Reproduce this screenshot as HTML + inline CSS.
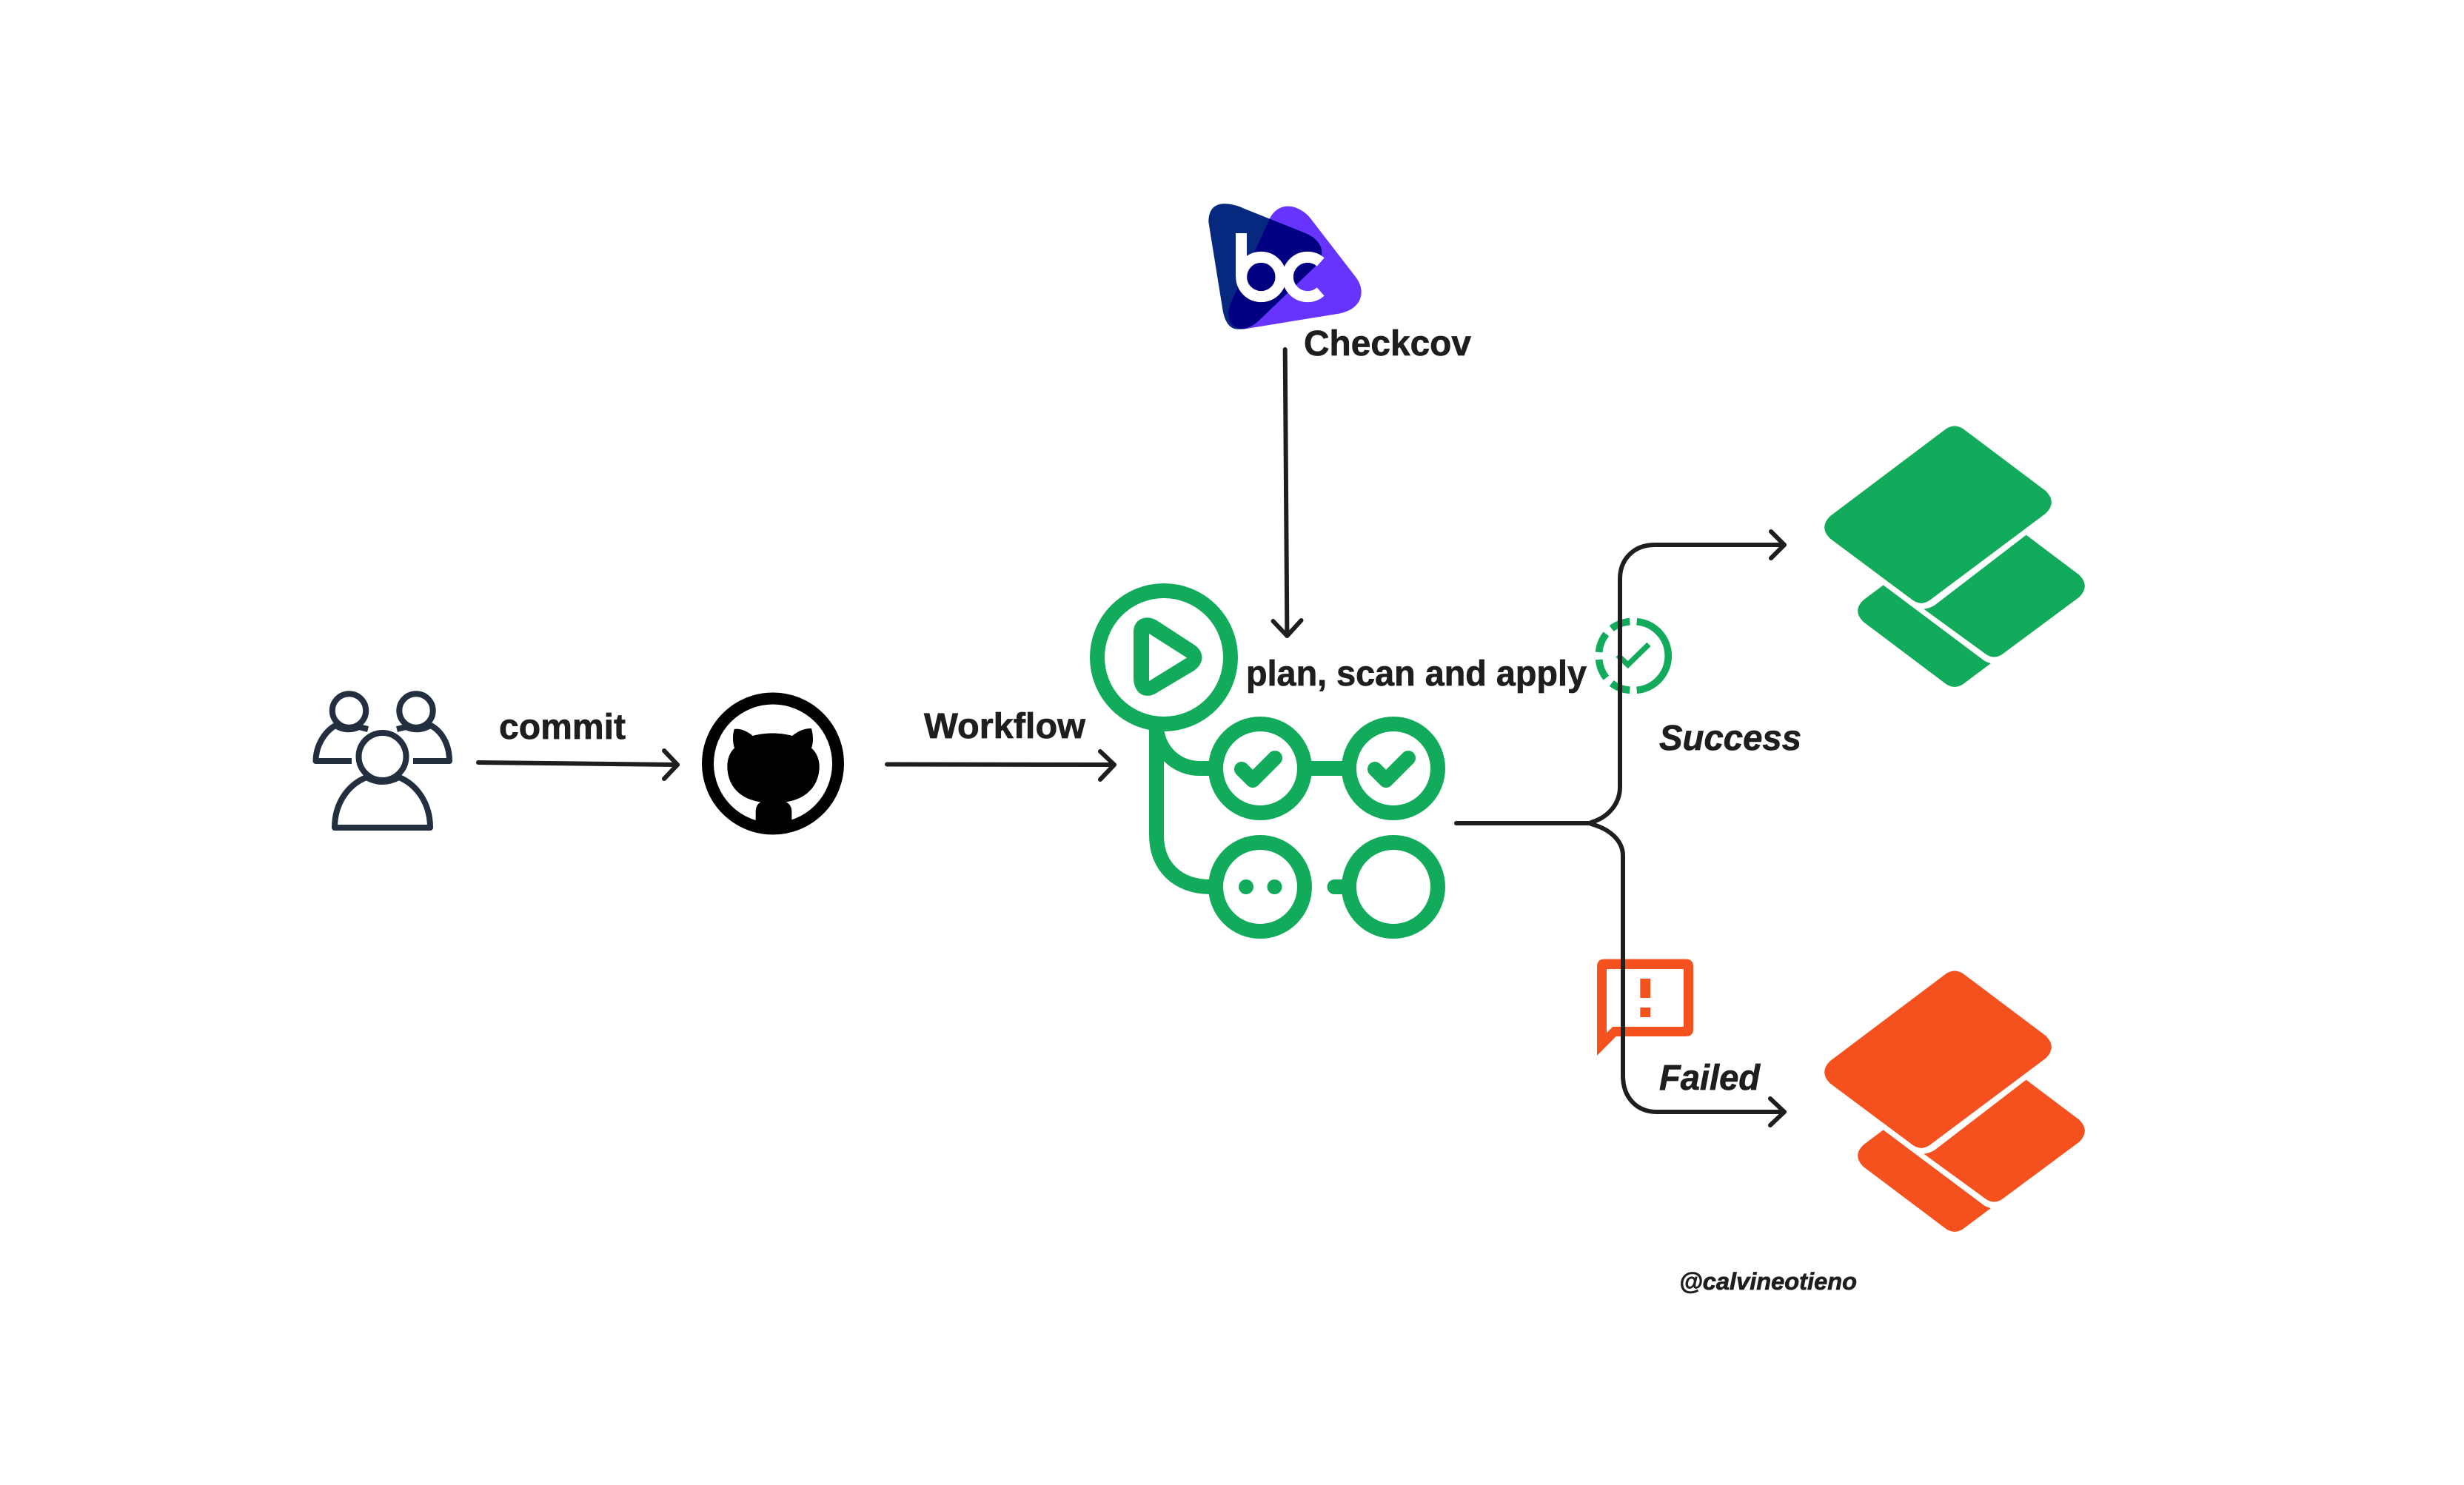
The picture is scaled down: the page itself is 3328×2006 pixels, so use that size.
<!DOCTYPE html>
<html>
<head>
<meta charset="utf-8">
<style>
html,body{margin:0;padding:0;background:#fff;}
svg{display:block;}
text{font-family:"Liberation Sans",sans-serif;font-weight:700;fill:#1e1e1e;stroke:#1e1e1e;stroke-width:0.7px;}
.i{font-style:italic;}
</style>
</head>
<body>
<svg xmlns="http://www.w3.org/2000/svg" width="3328" height="2006" viewBox="0 0 3328 2006">
<rect width="3328" height="2006" fill="#fff"/>
<defs>
<clipPath id="darkclip"><path d="M97 150C97 90 130 70 180 77C200 80 220 85 240 95L490 195C550 220 575 270 540 320L300 550C270 578 240 585 215 584C185 583 165 560 155 510Z"/></clipPath>
<g id="stack">
<path d="M535 58Q570 35 605 58L940 310Q985 355 940 400L470 752Q435 777 400 752L65 502Q20 457 65 412Z"/>
<path d="M860 488L1075 650Q1120 695 1075 740L765 970Q730 995 695 970L445 788Q470 785 490 772Z"/>
<path d="M281 691L680 990Q695 1003 717 1008L605 1092Q570 1115 535 1092L200 840Q155 795 200 752Z"/>
</g>
</defs>

<!-- users -->
<g fill="none" stroke="#232f3e" stroke-width="8" stroke-linejoin="round">
<circle cx="471.500" cy="960" r="22.700"/>
<circle cx="562" cy="960" r="22.700"/>
<path d="M497 985L485 982Q472 988 459 983L453 980C436 990 426.500 1010 426.500 1028L475 1028"/>
<path d="M536 985L548 982Q562 988 575 983L582 980C600 990 607 1010 607 1028L558 1028"/>
<circle cx="516.500" cy="1022" r="32"/>
<path d="M495 1050C470 1060 452 1085 452 1118L581 1118C581 1085 563 1060 539 1050Q516 1062 495 1050Z"/>
</g>

<!-- github -->
<circle cx="1044" cy="1031.500" r="88" fill="none" stroke="#000" stroke-width="16"/>
<g transform="translate(920,920) scale(0.33333)">
<path fill="#000" d="M215 195C240 190 270 205 290 222C340 208 400 208 450 222C470 205 500 190 528 192C535 220 537 245 528 272C550 290 560 320 560 345C560 430 500 480 425 490C440 497 448 510 448 530L448 600L302 600L302 530C302 510 310 497 322 490C245 480 187 430 187 345C187 320 195 290 216 272C208 245 208 220 215 195Z"/>
</g>

<!-- checkcov logo -->
<g transform="translate(1600,250) scale(0.33333)">
<path fill="#06297f" d="M97 150C97 90 130 70 180 77C200 80 220 85 240 95L490 195C550 220 575 270 540 320L300 550C270 578 240 585 215 584C185 583 165 560 155 510Z"/>
<path fill="#6633ff" d="M345 135L190 470C165 530 175 580 240 584L630 520C720 500 735 430 695 375L510 135C465 80 385 60 345 135Z"/>
<g clip-path="url(#darkclip)"><path fill="#000080" d="M345 135L190 470C165 530 175 580 240 584L630 520C720 500 735 430 695 375L510 135C465 80 385 60 345 135Z"/></g>
<g fill="none" stroke="#fff" stroke-width="45">
<path d="M229.500 195L229.500 372"/>
<circle cx="310" cy="372" r="80"/>
<path d="M551 312A80 80 0 1 0 551 432"/>
</g>
</g>

<!-- actions icon -->
<g fill="none" stroke="#12ab5b" stroke-width="20" stroke-linecap="butt">
<circle cx="1572" cy="888" r="90"/>
<circle cx="1702" cy="1038" r="60"/>
<circle cx="1882" cy="1038" r="60"/>
<circle cx="1702" cy="1198" r="60"/>
<circle cx="1882" cy="1198" r="60"/>
<path d="M1562 975L1562 1128C1562 1170 1590 1198 1635 1198"/>
<path d="M1562 980A58 58 0 0 0 1620 1038L1640 1038"/>
<path d="M1760 1038L1824 1038"/>
<path d="M1802.500 1198L1815 1198" stroke-linecap="round"/>
<path d="M1677 1039L1692 1054L1722 1024" stroke-linecap="round" stroke-linejoin="round"/>
<path d="M1857 1039L1872 1054L1902 1024" stroke-linecap="round" stroke-linejoin="round"/>
</g>
<circle cx="1683" cy="1198" r="10" fill="#12ab5b"/>
<circle cx="1721.500" cy="1198" r="10" fill="#12ab5b"/>
<path fill="#12ab5b" fill-rule="evenodd" d="M1531 854C1531 836 1548 829 1563.800 839L1612.600 870.700C1627 880 1627 896 1612.600 906L1563.800 935C1548 946 1531 938 1531 915ZM1552 856L1552 920L1603 888.500Z"/>

<!-- success badge -->
<g transform="translate(2140,700) scale(0.33333)" fill="none" stroke="#12ab5b" stroke-width="29">
<path d="M212 419A139.500 139.500 0 0 1 212 697"/>
<path d="M184 419A139.500 139.500 0 0 0 110 447"/>
<path d="M88 469A139.500 139.500 0 0 0 59 543"/>
<path d="M59 573A139.500 139.500 0 0 0 88 647"/>
<path d="M110 669A139.500 139.500 0 0 0 184 697"/>
<path d="M135 555L176 594L261 511" stroke-width="22"/>
</g>

<!-- failed bubble -->
<g transform="translate(2140,1280) scale(0.33333)" fill="#f5511e">
<path fill-rule="evenodd" d="M81 47L411 47Q441 47 441 77L441 330Q441 360 411 360L128 360L51 438L51 77Q51 47 81 47ZM90 87L90 345L115 321L402 321L402 87Z"/>
<rect x="226" y="126" width="41" height="78"/>
<rect x="226" y="243" width="41" height="39"/>
</g>

<!-- stacks -->
<g transform="translate(2450,560) scale(0.33333)" fill="#12ab5b"><use href="#stack"/></g>
<g transform="translate(2450,1296) scale(0.33333)" fill="#f5511e"><use href="#stack"/></g>

<!-- connectors -->
<g fill="none" stroke="#1e1e1e" stroke-width="6" stroke-linecap="round" stroke-linejoin="round">
<path d="M646 1030L915 1033"/><path d="M897 1014L915 1033L897 1052"/>
<path d="M1198 1032.500L1505 1033"/><path d="M1486 1015L1505 1033L1486 1053"/>
<path d="M1735.700 472L1738.400 859"/><path d="M1719.500 839L1738.400 859L1757.500 838"/>
<path d="M1967 1112L2149 1112"/>
<path d="M2149 1111C2173 1104 2188 1085 2188 1063L2188 782C2188 755 2207 736 2235 736L2410 736"/>
<path d="M2392 718L2410 736L2392 754"/>
<path d="M2149 1113C2175 1120 2192 1136 2192 1156L2192 1453C2192 1482 2210 1502 2238 1502L2410 1502"/>
<path d="M2391 1484L2410 1502L2391 1520"/>
</g>

<!-- labels -->
<text x="674" y="998" font-size="48" textLength="171" lengthAdjust="spacingAndGlyphs">commit</text>
<text x="1248" y="997" font-size="48" textLength="218" lengthAdjust="spacingAndGlyphs">Workflow</text>
<text x="1761" y="480" font-size="48" textLength="226" lengthAdjust="spacingAndGlyphs">Checkcov</text>
<text x="1683" y="926" font-size="48" textLength="460" lengthAdjust="spacingAndGlyphs">plan, scan and apply</text>
<text class="i" x="2241" y="1013" font-size="48" textLength="192" lengthAdjust="spacingAndGlyphs">Success</text>
<text class="i" x="2241" y="1472" font-size="48" textLength="136" lengthAdjust="spacingAndGlyphs">Failed</text>
<text class="i" x="2268" y="1742" font-size="32" textLength="240" lengthAdjust="spacingAndGlyphs">@calvineotieno</text>
</svg>
</body>
</html>
